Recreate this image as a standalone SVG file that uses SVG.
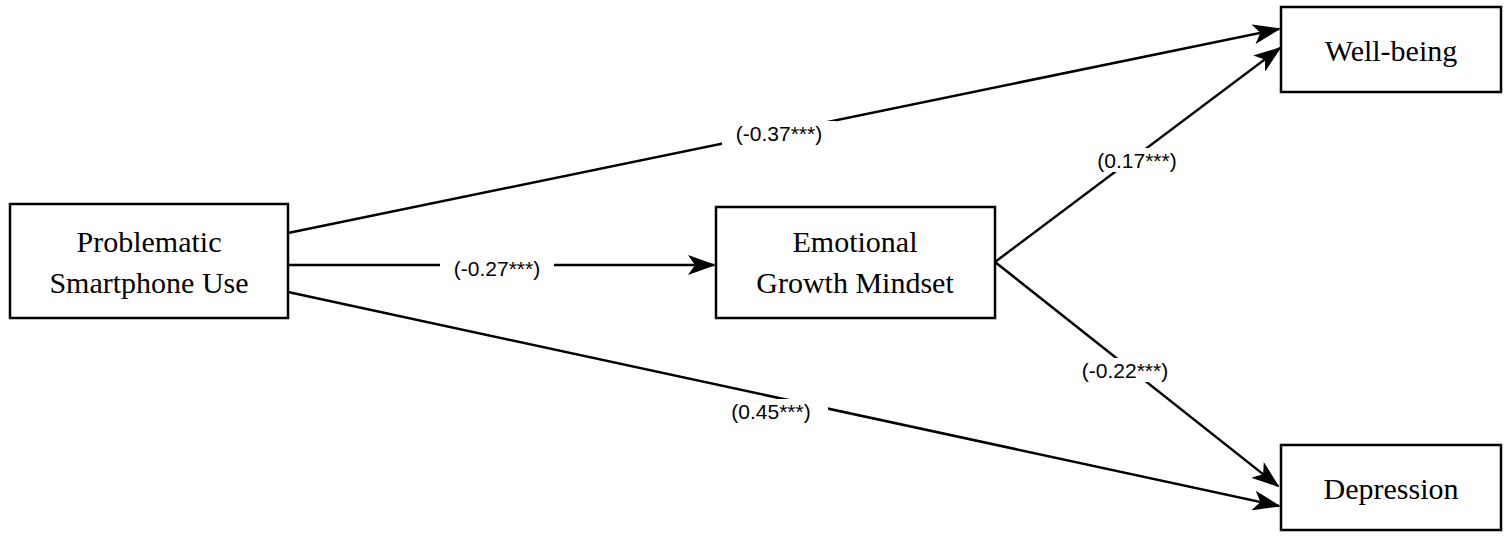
<svg xmlns="http://www.w3.org/2000/svg" width="1511" height="536" viewBox="0 0 1511 536">
<style>
.box{fill:#fff;stroke:#000;stroke-width:2.5}
.nt{font-family:"Liberation Serif",serif;font-size:30px;text-anchor:middle;fill:#000}
.lt{font-family:"Liberation Sans",sans-serif;font-size:21px;text-anchor:middle;fill:#000}
.ln{stroke:#000;stroke-width:2.5;fill:none;marker-end:url(#ah)}
.lb{fill:#fff}
</style>
<defs><marker id="ah" viewBox="0 0 28 20" refX="26" refY="10" markerWidth="28" markerHeight="20" markerUnits="userSpaceOnUse" orient="auto"><path d="M0,0 L28,10 L0,20 L7,10 Z" fill="#000"/></marker></defs>
<rect width="1511" height="536" fill="#fff"/>
<g id="connectors">
<line class="ln" x1="288" y1="233" x2="1279" y2="29"/>
<line class="ln" x1="288" y1="265" x2="714" y2="265"/>
<line class="ln" x1="288" y1="292" x2="1279" y2="506"/>
<line class="ln" x1="995" y1="262" x2="1280" y2="48"/>
<line class="ln" x1="995" y1="262" x2="1278" y2="486"/>
<rect class="lb" x="722" y="121" width="114" height="24"/><text class="lt" x="779" y="141">(-0.37***)</text>
<rect class="lb" x="440" y="256" width="114" height="24"/><text class="lt" x="497" y="276">(-0.27***)</text>
<rect class="lb" x="714" y="399" width="114" height="24"/><text class="lt" x="771" y="419">(0.45***)</text>
<rect class="lb" x="1084" y="148" width="106" height="24"/><text class="lt" x="1137" y="168">(0.17***)</text>
<rect class="lb" x="1066" y="358" width="118" height="24"/><text class="lt" x="1125" y="378">(-0.22***)</text>
</g>
<g id="psu"><rect class="box" x="10" y="204" width="278" height="114"/><text class="nt" x="149" y="252">Problematic</text><text class="nt" x="149" y="293">Smartphone Use</text></g>
<g id="egm"><rect class="box" x="716" y="207" width="279" height="111"/><text class="nt" x="855" y="252">Emotional</text><text class="nt" x="855" y="293">Growth Mindset</text></g>
<g id="wb"><rect class="box" x="1281" y="7" width="220" height="85"/><text class="nt" x="1391" y="61">Well-being</text></g>
<g id="dep"><rect class="box" x="1281" y="445" width="220" height="85"/><text class="nt" x="1391" y="499">Depression</text></g>
</svg>
